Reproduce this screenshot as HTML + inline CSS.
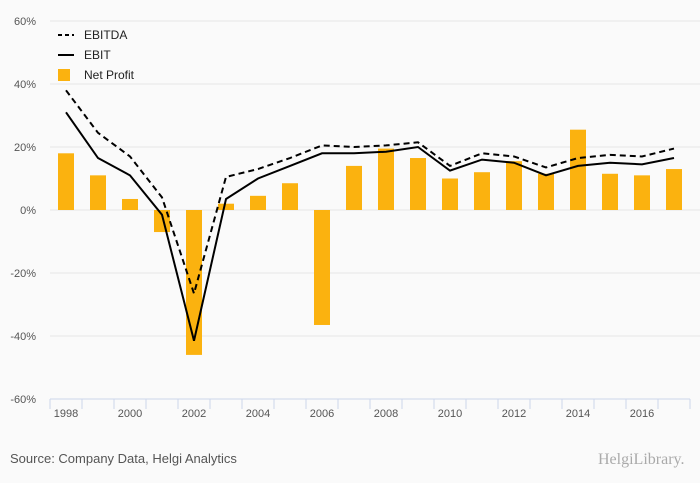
<!DOCTYPE html>
<html><head><meta charset="utf-8"><style>
body{margin:0;background:#fafafa;font-family:"Liberation Sans",sans-serif;}
svg{display:block}
</style></head><body>
<svg id="c" width="700" height="483">
<rect width="700" height="483" fill="#fafafa"/>
<g id="grid"></g><g id="bars"></g><g id="lines"></g><g id="axes"></g>
<g font-size="12" fill="#222">
<line x1="58" y1="35" x2="74" y2="35" stroke="#000" stroke-width="2" stroke-dasharray="4,3"/>
<text x="84" y="39">EBITDA</text>
<line x1="58" y1="55" x2="74" y2="55" stroke="#000" stroke-width="2"/>
<text x="84" y="59">EBIT</text>
<rect x="72" y="69" width="12" height="12" fill="#fbb20f" transform="translate(-14,0)"/>
<text x="84" y="79">Net Profit</text>
</g>
<text x="10" y="463" font-size="13" fill="#555">Source: Company Data, Helgi Analytics</text>
<text x="598" y="464" font-size="16" fill="#aaa" font-family="Liberation Serif,serif">HelgiLibrary.</text>
</svg>
<script>
const years=[1998,1999,2000,2001,2002,2003,2004,2005,2006,2007,2008,2009,2010,2011,2012,2013,2014,2015,2016,2017];
const netProfit=[18,11,3.5,-7,-46,2,4.5,8.5,-36.5,14,19.5,16.5,10,12,15.5,11.5,25.5,11.5,11,13];
const ebitda=[38,24.5,17,4,-26.5,10.5,13,16.5,20.5,20,20.5,21.5,14,18,17,13.5,16.5,17.5,17,19.5];
const ebit=[31,16.5,11,-1.5,-41.5,3.5,10,14,18,18,18.5,20,12.5,16,15,11,14,15,14.5,16.5];
const yTicks=[60,40,20,0,-20,-40,-60];
const NS="http://www.w3.org/2000/svg";
const x0=50,x1=690,yTop=21,yBot=399;
const step=(x1-x0)/years.length;
const X=i=>x0+step*(i+0.5);
const Y=v=>yTop+(60-v)/120*(yBot-yTop);
function mk(t,a,p){const e=document.createElementNS(NS,t);for(const k in a)e.setAttribute(k,a[k]);p.appendChild(e);return e;}
const grid=document.getElementById('grid'),bars=document.getElementById('bars'),lines=document.getElementById('lines'),axes=document.getElementById('axes');
yTicks.forEach(v=>{
  if(v!==-60){const l=mk('line',{x1:x0,x2:x1+10,y1:Y(v),y2:Y(v),stroke:'#e6e6e6'},grid);
  
  }
  const t=mk('text',{x:36,y:Y(v)+4,'text-anchor':'end','font-size':11,fill:'#555'},axes);
  t.textContent=v+'%';
  
  
});
netProfit.forEach((v,i)=>{
  const r=mk('rect',{x:X(i)-8,width:16,y:Math.min(Y(v),Y(0)),height:Math.abs(Y(v)-Y(0)),fill:'#fbb20f'},bars);
  
  
});
function line(arr,dash,name){
  const p=mk('polyline',{points:arr.map((v,i)=>X(i)+','+Y(v)).join(' '),fill:'none',stroke:'#000','stroke-width':2},lines);
  if(dash)p.setAttribute('stroke-dasharray','6,4');
  
  
}
line(ebitda,true,'line-ebitda');
line(ebit,false,'line-ebit');
const ax=mk('line',{x1:x0,x2:x1,y1:yBot,y2:yBot,stroke:'#ccd6eb'},axes);


for(let i=0;i<=years.length;i++){
  const t=mk('line',{x1:x0+step*i,x2:x0+step*i,y1:yBot,y2:yBot+10,stroke:'#ccd6eb'},axes);
  
  
}
years.forEach((y,i)=>{ if(i%2)return;
  const t=mk('text',{x:X(i),y:417,'text-anchor':'middle','font-size':11,fill:'#555'},axes);
  t.textContent=y;
  
  
});
</script>
</body></html>
